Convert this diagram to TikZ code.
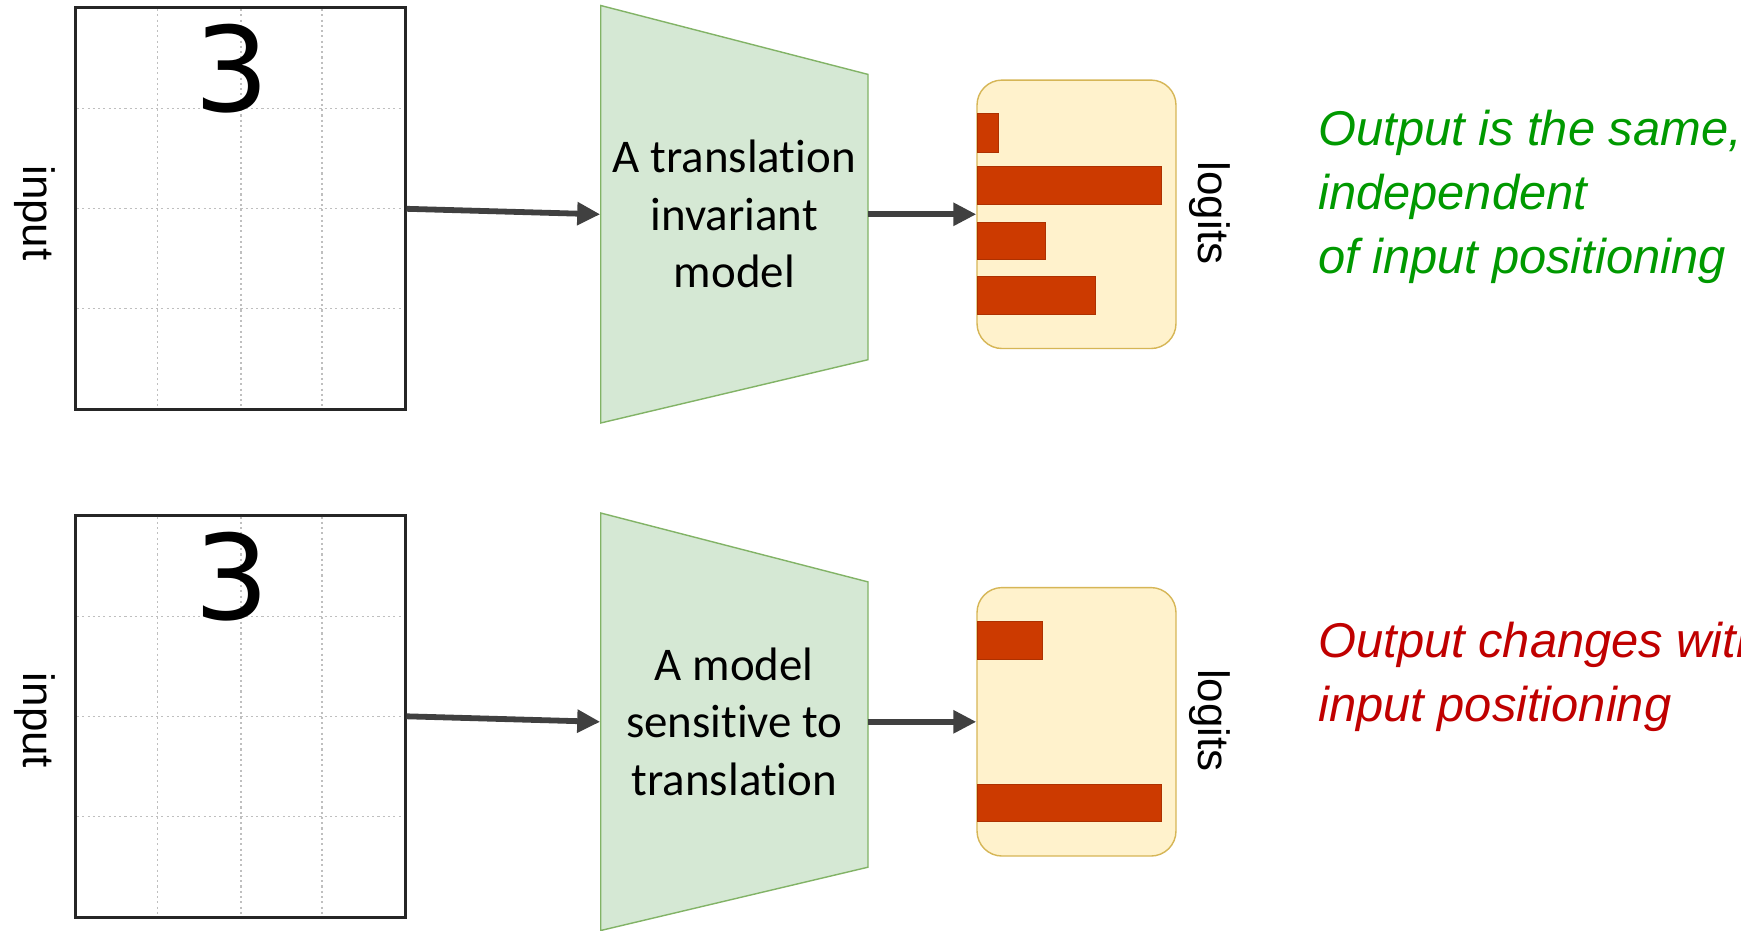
\documentclass[tikz,border=0pt]{standalone}
\usepackage{fontspec}
\setmainfont{Liberation Sans}
\newfontfamily\calibrifont[Ligatures=NoCommon]{Carlito}
\newfontfamily\digitfont{DejaVu Sans}
\usetikzlibrary{arrows.meta}

\definecolor{modelfill}{HTML}{D5E8D4}
\definecolor{modeldraw}{HTML}{82B366}
\definecolor{logitfill}{HTML}{FFF2CC}
\definecolor{logitdraw}{HTML}{D6B656}
\definecolor{barred}{HTML}{CC3A00}
\definecolor{arrowgray}{HTML}{404040}
\definecolor{okgreen}{HTML}{009900}
\definecolor{badred}{HTML}{C00000}

\begin{document}
\begin{tikzpicture}[%
    x=0.02cm, y=-0.02cm,
    inputBox/.style={%
        draw=black!85,
        line width=1.7pt,
        minimum width=6.59cm,
        minimum height=8.04cm,
        inner sep=0pt
    },
    gridLine/.style={%
        draw=black!25,
        line width=0.7pt,
        dash pattern=on 1.2pt off 1.8pt
    },
    digit/.style={%
        font=\digitfont\fontsize{67}{67}\selectfont,
        inner sep=0pt
    },
    sideLabel/.style={%
        rotate=-90,
        inner sep=0pt,
        font=\fontsize{25}{30}\selectfont
    },
    modelShape/.style={%
        fill=modelfill,
        draw=modeldraw,
        line width=0.8pt
    },
    model/.style={%
        align=center,
        inner sep=0pt,
        font=\calibrifont\fontsize{26.7}{32.7}\selectfont,
        minimum width=5.35cm,
        minimum height=8.35cm
    },
    logits/.style={%
        draw=logitdraw,
        fill=logitfill,
        line width=0.8pt,
        rounded corners=0.5cm,
        minimum width=3.98cm,
        minimum height=5.37cm,
        inner sep=0pt
    },
    bar/.style={%
        fill=barred,
        draw=barred!85!black,
        line width=0.4pt
    },
    noteText/.style={%
        anchor=west,
        align=left,
        inner sep=0pt,
        font=\itshape\fontsize{27.8}{36.4}\selectfont
    },
    flow/.style={%
        ->,
        draw=arrowgray,
        line width=3.3pt
    },
    >={Triangle[length=0.46cm,width=0.44cm]}
]

\path[fill=white, use as bounding box] (0,0) rectangle (1741,930);

% Inputs
    \node[inputBox] (input1) at (240.3,208.8) {};
    \node[inputBox] (input2) at (240.3,716.3) {};
    \foreach \gx in {157.7,240.9,322} {
        \draw[gridLine] (\gx,9) -- (\gx,408.5);
        \draw[gridLine] (\gx,516.5) -- (\gx,916);
    }
    \foreach \gy in {108.8,208.7,308.7} {
        \draw[gridLine] (77,\gy) -- (403.5,\gy);
        \draw[gridLine] (77,\gy+507.5) -- (403.5,\gy+507.5);
    }
    \node[digit] (digit1) at (232,69) {3};
    \node[digit] (digit2) at (232,576.5) {3};
    \node[sideLabel] (inputLabel1) at (35,213) {input};
    \node[sideLabel] (inputLabel2) at (35,720.5) {input};

% Models
    \draw[modelShape] (600.7,5.5) -- (868,74.4) -- (868,359.7) -- (600.7,423) -- cycle;
    \draw[modelShape] (600.7,513) -- (868,581.9) -- (868,867.2) -- (600.7,930.5) -- cycle;
    \node[model] (model1) at (734.3,214.3) {A translation\\invariant\\model};
    \node[model] (model2) at (734.3,721.8) {A model\\sensitive to\\translation};

% Logits
    \node[logits] (logits1) at (1076.5,214.3) {};
    \node[logits] (logits2) at (1076.5,721.8) {};
    \draw[bar] (977,113) rectangle (998,152);
    \draw[bar] (977,166.5) rectangle (1161,204.5);
    \draw[bar] (977,222.5) rectangle (1045,259);
    \draw[bar] (977,276.5) rectangle (1095,314);
    \draw[bar] (977,621.5) rectangle (1042.6,659.5);
    \draw[bar] (977,784) rectangle (1161,821.5);
    \node[sideLabel] (logitsLabel1) at (1210,213) {logits};
    \node[sideLabel] (logitsLabel2) at (1210,720.5) {logits};

% Notes
    \node[noteText, text=okgreen] (note1) at (1318,197) {Output is the same,\\independent\\of input positioning};
    \node[noteText, text=badred] (note2) at (1318,677) {Output changes with\\input positioning};

% Arrows
\draw[flow] (input1.east) -- (model1.west);
\draw[flow] (input2.east) -- (model2.west);
\draw[flow] (model1.east) -- (logits1.west);
\draw[flow] (model2.east) -- (logits2.west);

\end{tikzpicture}
\end{document}
